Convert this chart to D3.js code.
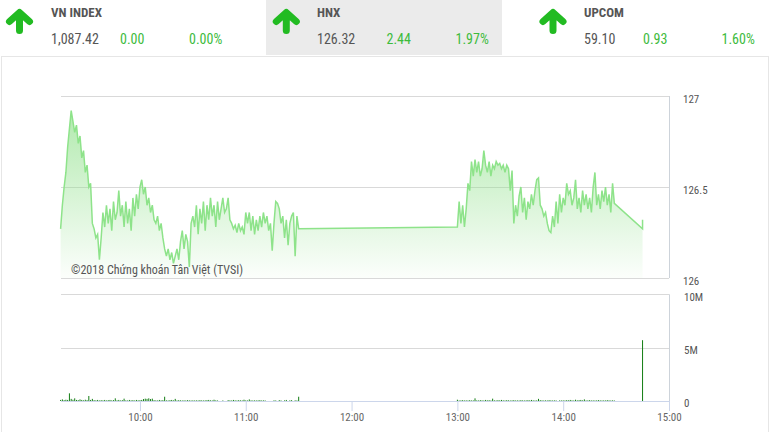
<!DOCTYPE html>
<html>
<head>
<meta charset="utf-8">
<script src="https://cdnjs.cloudflare.com/ajax/libs/d3/7.8.5/d3.min.js"></script>
<style>
  body { margin: 0; background: #fff; }
  svg { display: block; }
</style>
</head>
<body>
<div id="chart"></div>
<script>
// HNX intraday chart: index tiles on top, price area + volume bars below

// header tiles
var indexNames = ["VN INDEX", "HNX", "UPCOM"];
var indexValues = ["1,087.42", "126.32", "59.10"];
var indexChanges = ["0.00", "2.44", "0.93"];
var indexPercents = ["0.00%", "1.97%", "1.60%"];

// axis ticks
var timeTicks = ["10:00", "11:00", "12:00", "13:00", "14:00", "15:00"];
var priceTicks = [126, 126.5, 127];
var volumeTicks = [0, 5, 10];
var volumeTickLabels = ["0", "5M", "10M"];

// price, one value per minute from 09:15 to 11:30
var morningStart = "09:15";
var morningPrice = [
  126.27, 126.40, 126.50, 126.58, 126.72, 126.82, 126.92, 126.86, 126.80, 126.84,
  126.74, 126.78, 126.66, 126.70, 126.58, 126.62, 126.50, 126.52, 126.30, 126.27,
  126.22, 126.24, 126.10, 126.22, 126.36, 126.28, 126.40, 126.30, 126.38, 126.26,
  126.42, 126.32, 126.36, 126.48, 126.34, 126.40, 126.28, 126.42, 126.30, 126.38,
  126.26, 126.44, 126.34, 126.46, 126.38, 126.50, 126.54, 126.46, 126.50, 126.40,
  126.44, 126.36, 126.40, 126.32, 126.30, 126.34, 126.26, 126.30, 126.22, 126.16,
  126.12, 126.16, 126.10, 126.14, 126.08, 126.12, 126.16, 126.10, 126.20, 126.26,
  126.16, 126.24, 126.20, 126.06, 126.30, 126.34, 126.28, 126.40, 126.24, 126.38,
  126.30, 126.42, 126.26, 126.40, 126.32, 126.44, 126.34, 126.40, 126.28, 126.42,
  126.32, 126.38, 126.44, 126.36, 126.38, 126.44, 126.32, 126.30, 126.27, 126.29,
  126.25, 126.30, 126.26, 126.28, 126.24, 126.36, 126.30, 126.36, 126.26, 126.34,
  126.24, 126.32, 126.26, 126.34, 126.28, 126.36, 126.30, 126.34, 126.26, 126.30,
  126.15, 126.30, 126.42, 126.41, 126.38, 126.30, 126.34, 126.22, 126.32, 126.18,
  126.30, 126.34, 126.36, 126.12, 126.34, 126.27
];

// price, one value per minute from 13:00 to 14:29
var afternoonStart = "13:00";
var afternoonPrice = [
  126.28,
  126.42, 126.30, 126.40, 126.28, 126.38, 126.52, 126.48, 126.64, 126.56, 126.65,
  126.58, 126.64, 126.56, 126.60, 126.70, 126.62, 126.58, 126.64, 126.56, 126.62,
  126.60, 126.64, 126.62, 126.63, 126.60, 126.62, 126.58, 126.62, 126.60, 126.48,
  126.59, 126.30, 126.40, 126.34, 126.45, 126.50, 126.36, 126.44, 126.32, 126.42,
  126.38, 126.46, 126.40, 126.48, 126.54, 126.55, 126.40, 126.38, 126.34, 126.36,
  126.30, 126.26, 126.25, 126.34, 126.28, 126.42, 126.30, 126.46, 126.36, 126.44,
  126.40, 126.52, 126.46, 126.48, 126.40, 126.44, 126.54, 126.38, 126.44, 126.36,
  126.48, 126.40, 126.46, 126.38, 126.44, 126.36, 126.50, 126.58, 126.40, 126.46,
  126.38, 126.48, 126.42, 126.50, 126.40, 126.46, 126.36, 126.52,
  126.41
];

// closing auction
var closeTimes = ["14:45", "14:45"];
var closePrice = [126.27, 126.32];

// volume in millions, per minute, same minutes as the price arrays
var morningVolume = [
  0.10, 0.15, 0.08, 0.12, 0.10, 0.72, 0.20, 0.12, 0.25, 0.10,
  0.08, 0.15, 0.10, 0.06, 0.12, 0.08, 0.47, 0.10, 0.20, 0.08,
  0.06, 0.10, 0.05, 0.08, 0.06, 0.10, 0.05, 0.08, 0.10, 0.06,
  0.08, 0.25, 0.06, 0.10, 0.05, 0.08, 0.22, 0.06, 0.05, 0.10,
  0.06, 0.08, 0.05, 0.10, 0.06, 0.08, 0.10, 0.18, 0.22, 0.20,
  0.25, 0.18, 0.22, 0.08, 0.06, 0.05, 0.10, 0.06, 0.08, 0.40,
  0.06, 0.05, 0.08, 0.10, 0.06, 0.20, 0.05, 0.08, 0.06, 0.05,
  0.06, 0.05, 0.08, 0.06, 0.05, 0.06, 0.05, 0.06, 0.05, 0.08,
  0.06, 0.05, 0.06, 0.08, 0.10, 0.06, 0.05, 0.12, 0.06, 0.05,
  0, 0, 0.05, 0, 0, 0.08, 0.06, 0.05, 0.10, 0.06,
  0.05, 0.08, 0.06, 0.05, 0.12, 0.06, 0.05, 0.15, 0.06, 0.05,
  0.06, 0.05, 0.06, 0.08, 0.05, 0.06, 0.05, 0, 0, 0,
  0, 0.06, 0.05, 0, 0.08, 0.05, 0, 0.06, 0.10, 0,
  0.06, 0.08, 0, 0.06, 0.05, 0.40
];
var afternoonVolume = [
  0.12, 0.05, 0.06, 0.08, 0.05, 0.06, 0.05, 0.08, 0.05, 0.06,
  0.25, 0.06, 0.05, 0.08, 0.06, 0.05, 0.10, 0.06, 0.08, 0.05,
  0.22, 0.06, 0.05, 0.08, 0.06, 0.10, 0.06, 0.05, 0.08, 0.06,
  0.05, 0.06, 0.08, 0.05, 0.06, 0.05, 0.08, 0.06, 0.05, 0.06,
  0.08, 0.06, 0.10, 0.06, 0.05, 0.06, 0.20, 0.08, 0.06, 0.05,
  0.06, 0.05, 0.08, 0.06, 0.05, 0.06, 0.05, 0, 0.06, 0.05,
  0.06, 0.05, 0.08, 0.06, 0.10, 0.06, 0.05, 0.12, 0.06, 0.08,
  0.10, 0.06, 0.15, 0.05, 0.06, 0.08, 0.05, 0.06, 0.05, 0.06,
  0.08, 0.06, 0.05, 0.06, 0.05, 0.08, 0.06, 0.05, 0.06, 0.05
];
var closeVolumeTime = "14:45";
var closeVolume = 5.7;

// layout
var svgWidth = 770;
var svgHeight = 432;
var plotLeft = 60.6;
var plotRight = 669;
var priceTop = 96, priceBottom = 278;
var volTop = 294.3, volBottom = 401;

var tileX = [0, 266, 502];
var tileW = [266, 236, 268];
var tileFill = ["#fff", "#ebebeb", "#fff"];
var arrowX = [19.5, 286.3, 553];
var titleX = [51, 317, 584];
var changeX = [120, 386.5, 643];
var pctX = [189, 455.5, 721.5];

var condensed = '"Roboto Condensed", "Liberation Sans Narrow", "Arial Narrow", Roboto, sans-serif';
var green = "#3dbb3d";

var parseTime = d3.timeParse("%H:%M");

var svg = d3.select("#chart")
  .append("svg")
  .attr("width", svgWidth)
  .attr("height", svgHeight);

// panel frame
svg.append("rect")
  .attr("x", 1.5)
  .attr("y", 56.5)
  .attr("width", 767)
  .attr("height", 390)
  .attr("fill", "none")
  .attr("stroke", "#e6e6e6");

// header tiles
var tiles = svg.selectAll(".tile")
  .data(indexNames)
  .enter()
  .append("g")
  .attr("class", "tile");

tiles.append("rect")
  .attr("x", (d, i) => tileX[i])
  .attr("y", 0)
  .attr("width", (d, i) => tileW[i])
  .attr("height", 55)
  .attr("fill", (d, i) => tileFill[i]);

tiles.append("path")
  .attr("d", (d, i) => `M${arrowX[i] - 10},${21.5} L${arrowX[i]},${12.5} L${arrowX[i] + 10},${21.5} M${arrowX[i]},${13} L${arrowX[i]},${30.5}`)
  .attr("fill", "none")
  .attr("stroke", "#22bb22")
  .attr("stroke-width", 7)
  .attr("stroke-linecap", "round")
  .attr("stroke-linejoin", "round");

tiles.append("text")
  .attr("x", (d, i) => titleX[i])
  .attr("y", 17.3)
  .style("font-family", condensed)
  .style("font-size", "13px")
  .style("font-weight", "bold")
  .attr("fill", "#555")
  .text(d => d);

tiles.append("text")
  .attr("x", (d, i) => titleX[i])
  .attr("y", 44.3)
  .style("font-family", condensed)
  .style("font-size", "14px")
  .attr("fill", "#555")
  .text((d, i) => indexValues[i]);

tiles.append("text")
  .attr("x", (d, i) => changeX[i])
  .attr("y", 44.3)
  .style("font-family", condensed)
  .style("font-size", "14px")
  .attr("fill", green)
  .text((d, i) => indexChanges[i]);

tiles.append("text")
  .attr("x", (d, i) => pctX[i])
  .attr("y", 44.3)
  .style("font-family", condensed)
  .style("font-size", "14px")
  .attr("fill", green)
  .text((d, i) => indexPercents[i]);

// build series
function session(start, values) {
  var t0 = parseTime(start);
  return values.map((v, i) => ({ t: d3.timeMinute.offset(t0, i), v: v }));
}
var priceData = session(morningStart, morningPrice)
  .concat(session(afternoonStart, afternoonPrice))
  .concat(closeTimes.map((t, i) => ({ t: parseTime(t), v: closePrice[i] })));
var volumeData = session(morningStart, morningVolume)
  .concat(session(afternoonStart, afternoonVolume))
  .concat([{ t: parseTime(closeVolumeTime), v: closeVolume }]);

// scales
var xScale = d3.scaleTime()
  .domain([parseTime("09:15"), parseTime("15:00")])
  .range([plotLeft, plotRight]);
var yPrice = d3.scaleLinear()
  .domain([126, 127])
  .range([priceBottom, priceTop]);
var yVolume = d3.scaleLinear()
  .domain([0, 10])
  .range([volBottom, volTop]);

// gradient for the price area
var grad = svg.append("defs").append("linearGradient")
  .attr("id", "areaGrad")
  .attr("gradientUnits", "userSpaceOnUse")
  .attr("x1", 0).attr("y1", priceTop)
  .attr("x2", 0).attr("y2", priceBottom);
grad.append("stop").attr("offset", "0%").attr("stop-color", "#8fe08a").attr("stop-opacity", 0.75);
grad.append("stop").attr("offset", "100%").attr("stop-color", "#8fe08a").attr("stop-opacity", 0.03);

// grid lines
var grid = svg.append("g").attr("stroke", "#d9d9d9").attr("shape-rendering", "crispEdges");
grid.selectAll(".pgrid")
  .data(priceTicks)
  .enter()
  .append("line")
  .attr("x1", plotLeft).attr("x2", plotRight)
  .attr("y1", d => Math.round(yPrice(d)) + 0.5)
  .attr("y2", d => Math.round(yPrice(d)) + 0.5);
grid.selectAll(".vgrid")
  .data(volumeTicks.slice(1))
  .enter()
  .append("line")
  .attr("x1", plotLeft).attr("x2", plotRight)
  .attr("y1", d => Math.round(yVolume(d)) + 0.5)
  .attr("y2", d => Math.round(yVolume(d)) + 0.5);

// right borders
svg.append("line")
  .attr("x1", plotRight + 0.5).attr("x2", plotRight + 0.5)
  .attr("y1", priceTop).attr("y2", priceBottom)
  .attr("stroke", "#cdd3da");
svg.append("line")
  .attr("x1", plotRight + 0.5).attr("x2", plotRight + 0.5)
  .attr("y1", volTop).attr("y2", volBottom)
  .attr("stroke", "#cdd3da");

// price area + line
var area = d3.area()
  .x(d => xScale(d.t))
  .y0(yPrice(126))
  .y1(d => yPrice(d.v));
var line = d3.line()
  .x(d => xScale(d.t))
  .y(d => yPrice(d.v));

svg.append("path")
  .datum(priceData)
  .attr("d", area)
  .attr("fill", "url(#areaGrad)");

svg.append("text")
  .attr("x", 71)
  .attr("y", 274.3)
  .style("font-family", condensed)
  .style("font-size", "12px")
  .attr("fill", "#555")
  .text("©2018 Chứng khoán Tân Việt (TVSI)");

svg.append("path")
  .datum(priceData)
  .attr("d", line)
  .attr("fill", "none")
  .attr("stroke", "#8ee38a")
  .attr("stroke-width", 1.5);

// volume bars
svg.append("g")
  .selectAll("rect")
  .data(volumeData.filter(d => d.v > 0))
  .enter()
  .append("rect")
  .attr("x", d => xScale(d.t) - 0.5)
  .attr("width", 1)
  .attr("y", d => yVolume(d.v))
  .attr("height", d => volBottom - yVolume(d.v))
  .attr("fill", "#137d13");

// time axis
var xAxis = d3.axisBottom(xScale)
  .tickValues(timeTicks.map(parseTime))
  .tickFormat(d3.timeFormat("%H:%M"))
  .tickSize(10)
  .tickSizeOuter(0)
  .tickPadding(2);
var xAxisG = svg.append("g")
  .attr("transform", `translate(0, ${volBottom})`)
  .call(xAxis);
xAxisG.select(".domain").attr("stroke", "#ccd6eb");
xAxisG.selectAll(".tick line").attr("stroke", "#ccd6eb");
xAxisG.selectAll("text")
  .attr("fill", "#666")
  .style("font-family", condensed)
  .style("font-size", "11px");

// right-hand labels
var priceAxisG = svg.append("g")
  .attr("transform", "translate(683, 0)")
  .call(d3.axisRight(yPrice).tickValues(priceTicks).tickFormat(d => d).tickSize(0).tickPadding(0));
priceAxisG.select(".domain").remove();
priceAxisG.selectAll("text")
  .attr("dy", "0.58em")
  .attr("fill", "#555")
  .style("font-family", condensed)
  .style("font-size", "11px");

var volAxisG = svg.append("g")
  .attr("transform", "translate(684, 0)")
  .call(d3.axisRight(yVolume).tickValues(volumeTicks).tickFormat((d, i) => volumeTickLabels[i]).tickSize(0).tickPadding(0));
volAxisG.select(".domain").remove();
volAxisG.selectAll("text")
  .attr("dy", "0.52em")
  .attr("fill", "#555")
  .style("font-family", condensed)
  .style("font-size", "11px");
</script>
</body>
</html>
